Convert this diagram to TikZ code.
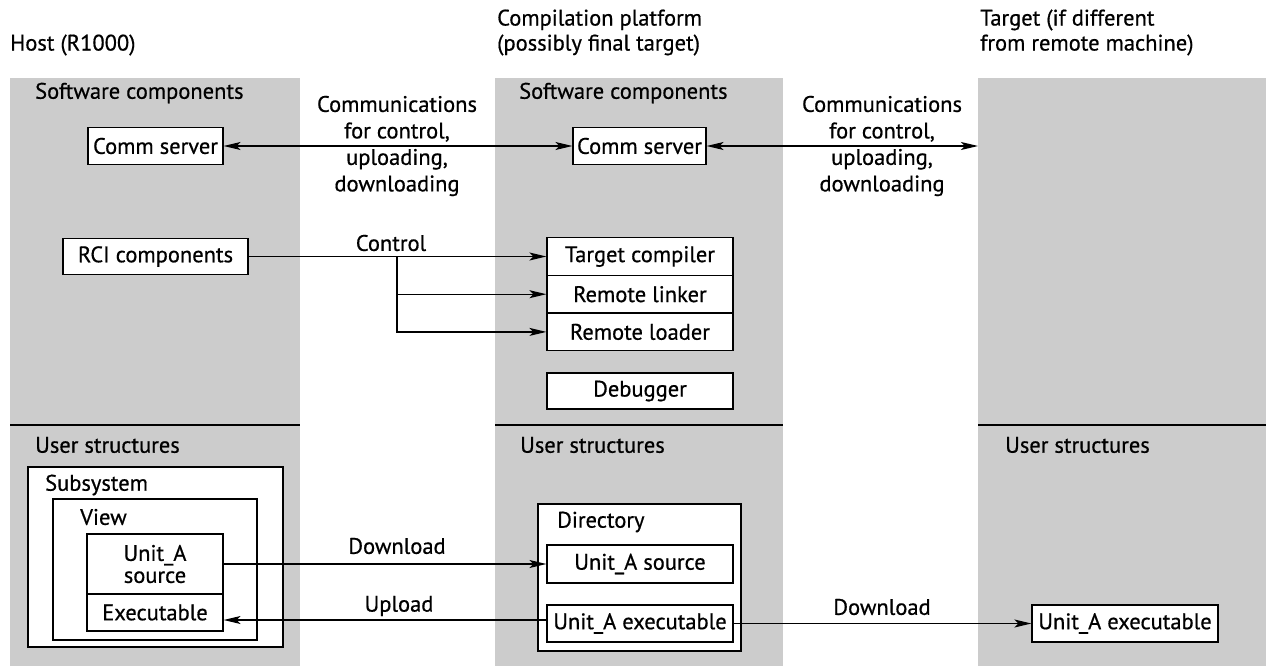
\documentclass[tikz,border=0pt]{standalone}
\usepackage{fontspec}
\setmainfont{PT Sans}[FakeBold=0.6]
\usetikzlibrary{arrows.meta}
\begin{document}
\begin{tikzpicture}[x=1pt,y=-1pt,
  font=\fontsize{22.5}{25}\selectfont,
  panel/.style={fill=black!20,draw=none},
  sep/.style={line width=1.4pt},
  box/.style={draw,fill=white,line width=1.2pt,inner sep=0pt},
  lbl/.style={inner sep=0pt,anchor=west},
  mlbl/.style={inner sep=0pt,align=center,font=\fontsize{22.5}{26.5}\selectfont},
  tip/.tip={Stealth[length=17pt,width=8pt,inset=4pt]},
  arr/.style={-tip,line width=1.2pt},
  darr/.style={tip-tip,line width=1.2pt},
  ln/.style={line width=1.2pt}]
\useasboundingbox (0,0) rectangle (1266,666);
% panels
\fill[panel] (10,78) rectangle (300,666);
\fill[panel] (495,78) rectangle (783,666);
\fill[panel] (978,78) rectangle (1266,666);
\draw[sep] (10,425) -- (300,425);
\draw[sep] (495,425) -- (783,425);
\draw[sep] (978,425) -- (1266,425);
% titles
\node[lbl] (thost) at (10,45) {Host (R1000)};
\node[lbl,align=left] (tcomp) at (497,32.5) {Compilation platform\\(possibly final target)};
\node[lbl,align=left] (ttarg) at (980,32.5) {Target (if different\\from remote machine)};
% section labels
\node[lbl] (sc1) at (35,93) {Software components};
\node[lbl] (sc2) at (519,93) {Software components};
\node[lbl] (us1) at (35,445) {User structures};
\node[lbl] (us2) at (520,445) {User structures};
\node[lbl] (us3) at (1005,445) {User structures};
% top boxes
\node[box,minimum width=135pt,minimum height=37pt] (cs1) at (155.5,146) {Comm server};
\node[box,minimum width=133pt,minimum height=37pt] (cs2) at (639.5,146) {Comm server};
\coordinate (tedge) at (978,146);
\node[box,minimum width=185pt,minimum height=36pt] (rci) at (155.5,256.5) {RCI components};
\node[box,minimum width=186pt,minimum height=37.7pt] (tc) at (640,256.5) {Target compiler};
\node[box,minimum width=186pt,minimum height=37.7pt] (rl) at (640,294.2) {Remote linker};
\node[box,minimum width=186pt,minimum height=37.7pt] (rld) at (640,331.9) {Remote loader};
\node[box,minimum width=186pt,minimum height=36pt] (dbg) at (640,391) {Debugger};
% comm arrows
\draw[darr] (cs1.east) -- (cs2.west);
\draw[darr] (cs2.east) -- (tedge);
\node[mlbl] (cl1) at (397,146) {Communications\\for control,\\uploading,\\downloading};
\node[mlbl] (cl2) at (882,146) {Communications\\for control,\\uploading,\\downloading};
% control
\coordinate (j) at (397,256.5);
\draw[arr] (rci.east) -- (tc.west);
\draw[arr] (j) |- (rl.west);
\draw[arr] (j) |- (rld.west);
\node[inner sep=0pt] (ctl) at (391,243) {Control};
% user structures host
\node[box,minimum width=255pt,minimum height=180pt] (subsys) at (155.5,557) {};
\node[lbl] (subl) at (45,485) {Subsystem};
\node[box,minimum width=204pt,minimum height=141pt] (view) at (155,569.5) {};
\node[lbl] (viewl) at (80,517) {View};
\node[box,minimum width=136pt,minimum height=60pt,align=center,font=\fontsize{22.5}{22}\selectfont] (usrc) at (155,564) {Unit\_A\\source};
\node[box,minimum width=136pt,minimum height=37pt] (uexe) at (155,612.5) {Executable};
% directory
\node[box,minimum width=203pt,minimum height=147pt] (dir) at (639.5,577.5) {};
\node[lbl] (dirl) at (557,522) {Directory};
\node[box,minimum width=186pt,minimum height=38pt] (dsrc) at (640,564) {Unit\_A source};
\node[box,minimum width=186pt,minimum height=37pt] (dexe) at (640,623.5) {Unit\_A executable};
\node[box,minimum width=186pt,minimum height=37pt] (texe) at (1125,623.5) {Unit\_A executable};
% bottom arrows
\draw[arr] (usrc.east) -- (dsrc.west);
\draw[arr] ([yshift=3.5pt]dexe.west) -- ([yshift=3.5pt]dexe.west -| uexe.east);
\draw[arr] (dexe.east) -- (texe.west);
\node[inner sep=0pt] (dl1) at (397,546) {Download};
\node[inner sep=0pt] (ul1) at (399,606) {Upload};
\node[inner sep=0pt] (dl2) at (882,607) {Download};
\end{tikzpicture}
\end{document}
